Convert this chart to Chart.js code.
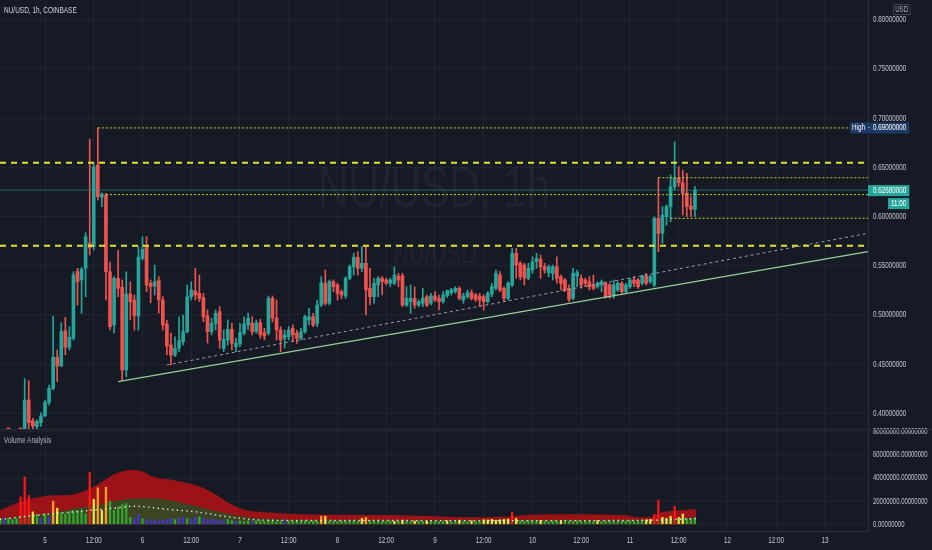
<!DOCTYPE html>
<html>
<head>
<meta charset="utf-8">
<title>NU/USD, 1h, COINBASE</title>
<script src="https://cdn.jsdelivr.net/npm/chart.js@4.4.0/dist/chart.umd.min.js"></script>
<style>
  html, body { margin: 0; padding: 0; background: #161a25; overflow: hidden; }
  #wrap { position: relative; width: 932px; height: 550px; background: #161a25; }
  #priceBox { position: absolute; left: 0; top: 0; width: 932px; height: 429px; }
  #volBox { position: absolute; left: 0; top: 424px; width: 932px; height: 126px; }
  #sep { position: absolute; left: 0; top: 429px; width: 932px; height: 1px; background: #2a2e39; }
  .lbl { position: absolute; font-family: "Liberation Sans", sans-serif; font-size: 9px; color: #d1d4dc;
         white-space: nowrap; transform-origin: 0 0; transform: scaleX(0.72); }
  #usd { border: 1px solid #434651; padding: 0 2px; line-height: 9px; color: #b2b5be; font-size: 8.5px; }
</style>
</head>
<body>
<div id="wrap">
  <div id="priceBox"><canvas id="price"></canvas></div>
  <div id="volBox"><canvas id="volume"></canvas></div>
  <div id="sep"></div>
  <div class="lbl" style="left:4px;top:5px;">NU/USD, 1h, COINBASE</div>
  <div class="lbl" id="usd" style="left:893px;top:4px;">USD</div>
  <div class="lbl" style="left:4px;top:435px;color:#b2b5be;">Volume Analysis</div>
</div>
<script>
// hourly candles, hour 0 = Dec 5 00:00
const firstHour = -11;
const opens = [
  .372,.376,.378,.377,.379,.381,.380,.4135,.3924,.3866,.3904,.3975,
  .4108,.4254,.4569,.4480,.4839,.4670,.4762,.5439,.5354,.5473,.5730,.5693,
  .6523,.6195,.6218,.5439,.4897,.5372,.5280,.4440,.5212,.5151,.4989,.5575,
  .5687,.5321,.5293,.5347,.5151,.4907,.4694,.4592,.4660,.4727,.4829,.5185,
  .5243,.5219,.5175,.4989,.4829,.4914,.5032,.4660,.4745,.4853,.4677,.4704,
  .4813,.4897,.4914,.4829,.4920,.4819,.4813,.5168,.4968,.4846,.4762,.4778,
  .4863,.4813,.4762,.4829,.4948,.4981,.4914,.5100,.5321,.5118,.5337,.5304,
  .5236,.5192,.5372,.5489,.5585,.5473,.5524,.5270,.5185,.5304,.5372,.5355,
  .5321,.5321,.5395,.5395,.5100,.5134,.5168,.5100,.5118,.5185,.5118,.5192,
  .5168,.5134,.5192,.5225,.5236,.5270,.5151,.5185,.5225,.5202,.5192,.5185,
  .5134,.5212,.5270,.5405,.5270,.5168,.5304,.5626,.5524,.5507,.5372,.5456,
  .5540,.5565,.5489,.5429,.5422,.5489,.5388,.5355,.5270,.5168,.5395,.5372,
  .5355,.5337,.5304,.5286,.5304,.5321,.5304,.5202,.5253,.5321,.5236,.5286,
  .5355,.5355,.5321,.5395,.5337,.5304,.5981,.5829,.5998,.6100,.6303,.6388,
  .6343,.6236,.6107,.6073
];
const highs = [
  .378,.380,.382,.381,.383,.384,.435,.4331,.3949,.3932,.4006,.4135,
  .4287,.4988,.4643,.4920,.4975,.4880,.5439,.5473,.5484,.5835,.6787,.6543,
  .6900,.6240,.6235,.5537,.5388,.5659,.5355,.5439,.5337,.5202,.5693,.5794,
  .5794,.5355,.5507,.5388,.5185,.4948,.4816,.4778,.4981,.4999,.5304,.5337,
  .5473,.5405,.5219,.5049,.4965,.5049,.5083,.4846,.4948,.4914,.4765,.4914,
  .4981,.5019,.4981,.4948,.4955,.4863,.5192,.5192,.5151,.4880,.4846,.4880,
  .4897,.4846,.4863,.4999,.5067,.5016,.5151,.5388,.5456,.5355,.5355,.5321,
  .5253,.5388,.5507,.5626,.5642,.5693,.5693,.5473,.5372,.5388,.5388,.5372,
  .5372,.5489,.5422,.5422,.5286,.5304,.5286,.5151,.5270,.5202,.5219,.5236,
  .5202,.5236,.5253,.5270,.5286,.5286,.5219,.5253,.5253,.5219,.5219,.5202,
  .5236,.5321,.5456,.5439,.5286,.5337,.5677,.5677,.5540,.5524,.5524,.5591,
  .5626,.5608,.5524,.5507,.5507,.5591,.5405,.5372,.5304,.5473,.5456,.5405,
  .5372,.5388,.5405,.5337,.5355,.5337,.5321,.5355,.5337,.5337,.5321,.5372,
  .5388,.5372,.5405,.5422,.5405,.5998,.6394,.6100,.6117,.6422,.6760,.6506,
  .6472,.6439,.6201,.6303
];
const lows = [
  .369,.373,.375,.374,.376,.377,.378,.384,.383,.384,.3866,.3965,
  .4084,.4237,.4321,.4473,.4592,.4643,.4745,.5100,.5016,.5185,.5608,.5659,
  .6168,.6099,.5151,.4846,.4816,.5185,.4338,.4372,.4948,.4846,.4846,.5558,
  .5236,.5121,.5202,.5019,.4846,.4592,.4491,.4575,.4626,.4694,.4816,.5151,
  .5151,.5134,.4931,.4714,.4796,.4846,.4660,.4626,.4694,.4643,.4626,.4677,
  .4796,.4846,.4796,.4813,.4762,.4745,.4796,.4928,.4745,.4626,.4663,.4745,
  .4727,.4711,.4745,.4813,.4897,.4880,.4880,.5083,.5100,.5100,.5236,.5151,
  .5168,.5168,.5355,.5405,.5405,.5439,.4999,.5100,.5118,.5185,.5202,.5304,
  .5286,.5304,.5286,.5083,.5083,.5016,.5067,.5083,.5083,.5083,.5100,.5134,
  .5049,.5118,.5178,.5202,.5219,.5151,.5118,.5168,.5151,.5134,.5083,.5049,
  .5118,.5185,.5253,.5236,.5134,.5151,.5286,.5372,.5355,.5304,.5355,.5422,
  .5473,.5372,.5422,.5388,.5355,.5321,.5253,.5236,.5134,.5151,.5286,.5270,
  .5286,.5253,.5253,.5270,.5236,.5168,.5168,.5168,.5236,.5219,.5219,.5270,
  .5286,.5270,.5304,.5304,.5321,.5286,.5642,.5727,.5913,.5947,.6269,.6303,
  .6015,.5998,.5998,.5998
];
const closes = [
  .376,.378,.377,.379,.381,.380,.4135,.3904,.3870,.3914,.3972,.4111,
  .4254,.4569,.4480,.4829,.4670,.4772,.5405,.5337,.5463,.5794,.5680,.6506,
  .6201,.6228,.5439,.4880,.5372,.5270,.4440,.5212,.5134,.4989,.5585,.5666,
  .5304,.5286,.5337,.5151,.4897,.4684,.4592,.4660,.4738,.4829,.5185,.5253,
  .5202,.5168,.4981,.4829,.4914,.5016,.4745,.4752,.4853,.4711,.4711,.4819,
  .4907,.4965,.4829,.4920,.4796,.4785,.5168,.4968,.4846,.4745,.4796,.4846,
  .4796,.4762,.4829,.4981,.4981,.4897,.5100,.5327,.5118,.5337,.5286,.5219,
  .5202,.5372,.5489,.5585,.5473,.5524,.5253,.5185,.5321,.5372,.5337,.5321,
  .5355,.5405,.5355,.5100,.5168,.5168,.5100,.5134,.5168,.5100,.5192,.5151,
  .5134,.5202,.5246,.5253,.5270,.5168,.5192,.5225,.5168,.5158,.5151,.5134,
  .5219,.5286,.5422,.5253,.5168,.5321,.5626,.5507,.5388,.5372,.5473,.5540,
  .5575,.5489,.5456,.5489,.5489,.5372,.5321,.5253,.5158,.5422,.5429,.5304,
  .5321,.5286,.5270,.5321,.5337,.5185,.5202,.5304,.5321,.5236,.5304,.5355,
  .5321,.5286,.5395,.5321,.5388,.5981,.5829,.6015,.6100,.6303,.6388,.6343,
  .6236,.6100,.6073,.6268
];

// volume in millions, and the indicator's bar colour code per candle
const volumesM = [
  5.0,4.5,5.5,4.0,5.0,23.7,41,25,10.7,8.5,5,9,
  6,20,14,10,9,11,12,12,12.5,9,45,21.7,
  31.6,12,32,20,12,15,17,18,6,5,8.7,5,
  4,3.5,4,3,3.5,4.5,5,4,5.5,6,5,4.5,
  6,6.5,5,4,5,4,3.5,3,4,3,2.5,3,
  2.5,3,2.5,3,3,2.5,3.5,3,2.5,3,2.5,3,
  2.5,3,2.5,3,2.5,3,2.5,7,7,2.5,3,2.5,
  3,2.5,3,3,2.5,5,6,3.2,2.6,2.9,2.4,2.7,
  3.1,2.5,2.8,3.4,2.6,2.3,2.9,3.0,2.4,2.7,3.3,2.6,
  2.5,2.9,3.1,2.4,2.8,3.6,2.7,2.5,3.0,2.6,2.9,4,
  3.8,4.2,3.5,4,4.3,4.5,10.4,5,3.0,2.7,3.2,2.6,
  2.9,3.4,2.8,2.5,3.1,2.7,3.0,3.5,2.6,2.9,3.2,2.4,
  2.8,3.0,2.7,3.3,2.6,2.9,3.1,2.5,2.8,3.0,2.7,3.2,
  2.9,2.6,3.4,3.8,4.2,8.7,21,6,5,7,15.6,6,
  9,5,4.5,5.5
];
const volumeCodes = [
  'gbgggrrrygbg', 'boyggggggggrry'.slice(0, 10) + 'ry',
  'oyoggggggbbgb'.slice(0, 12), 'bbbbbbbgbbgb', 'bgbbbbbbggbg', 'ggbgggggggbg',
  'gggggggoyggg', 'gggggyoggggg', 'gygyggyggygg', 'ggyggyggyggy',
  'yyyyyyryggggg'.slice(0, 12), 'gyggggyggggg', 'gggygggggggg',
  'gggyyrryyyry', 'yggg'
].join('').split('');

// volume analysis bands (millions), read along the pane
const redBandHours = [-11.1,-6.2,-3,2.5,5.4,10.3,13.5,17.7,21.7,24.1,26.6,31.5,38.2,41.4,46.3,49.7,54.6,62.8,70.9,87.4,95.5,103.6,114.2,117.7,128.2,143,146.2,149.7,151.1,156,160.3];
const redBandValues = [12.2,19.4,22.6,25.2,25.2,29.6,35.6,44.3,47,45.5,41.1,38.3,32.4,27,16.5,12.2,10.5,8.7,8.3,7.8,7,6,6.5,7.8,8.7,7.8,6,6,9.5,12,13];
const greenBandHours = [-11.1,-6,0,5,11,16,21,26,32,38,44,50,60,80,110,140,150,160.3];
const greenBandValues = [5,7,9,12,16,19.4,22,22.6,20,15,10,6,4,3.5,3.5,3.5,4,6];
const avgHours = [-11.1,-2,17,21.7,30,38,46,55,70,100,130,150,157,160.3];
const avgValues = [4.3,7.8,13.9,15.6,13,10.4,6,3.5,3.3,3.2,3.2,3.6,4.5,5];

// drawings on the price pane
const thickLevels = [0.6545, 0.5703];
const thinLevels = [0.69, 0.6394, 0.6222, 0.5981];
const thinLevelStarts = [13, 151, 15, 154];
const supportHours = [18, 202.6];
const supportPrices = [0.4321, 0.5642];
const trendHours = [30, 202.6];
const trendPrices = [0.4491, 0.5829];
const highValue = 0.69;
const lastPrice = 0.6268;
const timerText = '11:00';
const symbolText = 'NU/USD';

const priceTicks = [0.40, 0.45, 0.50, 0.55, 0.60, 0.65, 0.70, 0.75, 0.80];
const volumeTicks = [0, 20e6, 40e6, 60e6, 80e6];
const timeTicks = [0, 12, 24, 36, 48, 60, 72, 84, 96, 108, 120, 132, 144, 156, 168, 180, 192];

const xMin = -11.08, xMax = 202.6;
const FONT = '"Liberation Sans", sans-serif';
const SQUEEZE = 0.7;
const BULL = '#26a69a', BEAR = '#ef5350';
const GRID = 'rgba(42,46,57,0.55)', AXIS = '#2a2e39';
const YELLOW = '#e3e32c';
const LABEL = '#c3c6ce';
const VOL_COLORS = { g: '#2ea82e', b: '#4434d8', y: '#f2e13c', o: '#ff9b21', r: '#ff1616' };

Chart.defaults.font.family = FONT;
Chart.defaults.font.size = 9;
Chart.defaults.color = LABEL;

const hours = opens.map((_, i) => firstHour + i);
const candleColors = hours.map((_, i) => closes[i] >= opens[i] ? BULL : BEAR);

function fixX(h) {
  return s => { s.height = h; s.paddingLeft = 0; s.paddingRight = 0; };
}
function fixY(s) { s.width = 64; s.paddingTop = 0; s.paddingBottom = 0; }
function pts(xs, ys) { return xs.map((x, i) => ({ x: x, y: ys[i] })); }
function lineDs(data, color, width, dash, extra) {
  return Object.assign({
    type: 'line', data: data, borderColor: color, borderWidth: width, borderDash: dash,
    pointRadius: 0, fill: false, order: 1
  }, extra || {});
}

// narrow text: the reference uses a condensed face
function squeezed(ctx, text, x, y, align) {
  const w = ctx.measureText(text).width * SQUEEZE;
  let left = x;
  if (align === 'center') left = x - w / 2;
  else if (align === 'right') left = x - w;
  ctx.save();
  ctx.translate(left, y);
  ctx.scale(SQUEEZE, 1);
  ctx.textAlign = 'left';
  ctx.fillText(text, 0, 0);
  ctx.restore();
  return w;
}
function textW(ctx, text) { return ctx.measureText(text).width * SQUEEZE; }

function axisLabels(axes) {
  return {
    id: 'axisLabels',
    afterDraw(chart) {
      const ctx = chart.ctx;
      ctx.save();
      ctx.fillStyle = LABEL;
      ctx.textBaseline = 'middle';
      axes.forEach(a => {
        const s = chart.scales[a.id];
        ctx.font = (a.size || 9) + 'px ' + FONT;
        s.ticks.forEach(t => {
          const p = s.getPixelForValue(t.value);
          if (s.isHorizontal()) squeezed(ctx, a.format(t.value), p, s.top + 10, 'center');
          else squeezed(ctx, a.format(t.value), s.left + 5, p, 'left');
        });
      });
      ctx.restore();
    }
  };
}

function drawFitted(ctx, text, cx, base, size, width) {
  ctx.font = size + 'px ' + FONT;
  const w = ctx.measureText(text).width;
  ctx.save();
  ctx.translate(cx, base);
  ctx.scale(width / w, 1);
  ctx.fillText(text, 0, 0);
  ctx.restore();
}

const watermark = {
  id: 'watermark',
  beforeDatasetsDraw(chart) {
    const ctx = chart.ctx;
    ctx.save();
    ctx.fillStyle = 'rgba(178,181,190,0.06)';
    ctx.textAlign = 'center';
    ctx.textBaseline = 'alphabetic';
    drawFitted(ctx, symbolText + ', 1h', 434, 207, 58, 232);
    drawFitted(ctx, symbolText, 435, 263, 27, 84);
    ctx.restore();
  }
};

const priceTags = {
  id: 'priceTags',
  afterDraw(chart) {
    const ctx = chart.ctx, ys = chart.scales.y, axisX = chart.chartArea.right;
    ctx.save();
    ctx.font = '9px ' + FONT;
    ctx.textBaseline = 'middle';

    let y = ys.getPixelForValue(highValue);
    let txt = highValue.toFixed(8);
    let w = textW(ctx, txt);
    ctx.fillStyle = '#1d3a66';
    ctx.fillRect(axisX - 18, y - 5.5, 18 + 5 + w + 3, 11);
    ctx.fillStyle = '#ffffff';
    squeezed(ctx, 'High', axisX - 16, y, 'left');
    squeezed(ctx, '-', axisX, y, 'left');
    squeezed(ctx, txt, axisX + 5, y, 'left');

    y = ys.getPixelForValue(lastPrice);
    txt = lastPrice.toFixed(8);
    w = textW(ctx, txt);
    const right = axisX + 5 + w + 3;
    ctx.fillStyle = BULL;
    ctx.fillRect(axisX, y - 5, right - axisX, 11);
    const tw = textW(ctx, timerText) + 6;
    ctx.fillRect(right - tw, y + 8, tw, 11);
    ctx.fillStyle = '#ffffff';
    squeezed(ctx, txt, axisX + 5, y + 0.5, 'left');
    squeezed(ctx, timerText, right - tw + 3, y + 13.5, 'left');
    ctx.restore();
  }
};

const priceDatasets = [
  { type: 'bar', data: hours.map((h, i) => ({ x: h, y: [lows[i], highs[i]] })),
    backgroundColor: candleColors, barThickness: 1, grouped: false, order: 3 },
  { type: 'bar', data: hours.map((h, i) => ({ x: h, y: [opens[i], closes[i]] })),
    backgroundColor: candleColors, barThickness: 3, minBarLength: 1, grouped: false, order: 2 },
  lineDs(pts([xMin, xMax], [lastPrice, lastPrice]), 'rgba(38,166,154,0.55)', 1, [])
];
thickLevels.forEach(v => priceDatasets.push(lineDs(pts([xMin, xMax], [v, v]), YELLOW, 2, [6, 5])));
thinLevels.forEach((v, i) => priceDatasets.push(lineDs(pts([thinLevelStarts[i], xMax], [v, v]), '#cfcf2a', 1, [2, 2])));
priceDatasets.push(lineDs(pts(supportHours, supportPrices), '#9ccc9c', 1.2, []));
priceDatasets.push(lineDs(pts(trendHours, trendPrices), '#9a9ea8', 1, [3, 3]));

new Chart(document.getElementById('price'), {
  type: 'bar',
  data: { datasets: priceDatasets },
  options: {
    responsive: true, maintainAspectRatio: false, animation: false, events: [],
    layout: { padding: 0 },
    plugins: { legend: { display: false }, tooltip: { enabled: false } },
    scales: {
      x: {
        type: 'linear', min: xMin, max: xMax, offset: false,
        grid: { color: GRID, offset: false, drawTicks: false },
        border: { display: false },
        ticks: { display: false },
        afterBuildTicks: s => { s.ticks = timeTicks.map(v => ({ value: v })); },
        afterFit: fixX(0)
      },
      y: {
        type: 'linear', position: 'right', min: 0.384, max: 0.82,
        grid: { color: GRID, drawTicks: false },
        border: { color: AXIS },
        ticks: { display: false },
        afterBuildTicks: s => { s.ticks = priceTicks.map(v => ({ value: v })); },
        afterFit: fixY
      }
    }
  },
  plugins: [watermark, axisLabels([{ id: 'y', format: v => v.toFixed(8) }]), priceTags]
});

const M = 1e6;
new Chart(document.getElementById('volume'), {
  type: 'bar',
  data: {
    datasets: [
      { type: 'line', data: pts(redBandHours, redBandValues.map(v => v * M)), borderWidth: 0,
        borderColor: '#9c1317', backgroundColor: '#9c1317', fill: 'origin', pointRadius: 0,
        cubicInterpolationMode: 'monotone', order: 5 },
      { type: 'line', data: pts(greenBandHours, greenBandValues.map(v => v * M)), borderWidth: 0,
        borderColor: '#3c4522', backgroundColor: '#3c4522', fill: 'origin', pointRadius: 0,
        cubicInterpolationMode: 'monotone', order: 4 },
      { type: 'bar', data: hours.map((h, i) => ({ x: h, y: volumesM[i] * M })),
        backgroundColor: volumeCodes.map(c => VOL_COLORS[c] || VOL_COLORS.g),
        barThickness: 1.6, grouped: false, order: 2 },
      lineDs(pts(avgHours, avgValues.map(v => v * M)), '#e8e8e8', 1.4, [1.4, 3.4],
        { cubicInterpolationMode: 'monotone', order: 1 })
    ]
  },
  options: {
    responsive: true, maintainAspectRatio: false, animation: false, events: [],
    layout: { padding: { top: 6 } },
    plugins: { legend: { display: false }, tooltip: { enabled: false } },
    scales: {
      x: {
        type: 'linear', min: xMin, max: xMax, offset: false,
        grid: { color: GRID, offset: false, drawTicks: false },
        border: { color: AXIS },
        ticks: { display: false },
        afterBuildTicks: s => { s.ticks = timeTicks.map(v => ({ value: v })); },
        afterFit: fixX(19)
      },
      y: {
        type: 'linear', position: 'right', min: -5.8 * M, max: 81.6 * M,
        grid: { color: GRID, drawTicks: false },
        border: { color: AXIS },
        ticks: { display: false },
        afterBuildTicks: s => { s.ticks = volumeTicks.map(v => ({ value: v })); },
        afterFit: fixY
      }
    }
  },
  plugins: [axisLabels([
    { id: 'x', format: v => v % 24 === 0 ? String(5 + v / 24) : '12:00' },
    { id: 'y', format: v => v.toFixed(8), size: 8.5 }
  ])]
});
</script>
</body>
</html>
